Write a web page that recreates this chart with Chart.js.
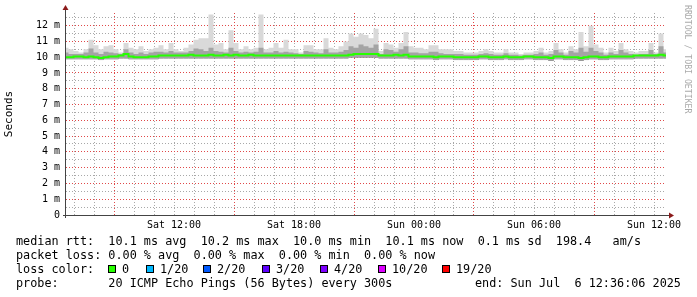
<!DOCTYPE html>
<html>
<head>
<meta charset="utf-8">
<script src="https://cdn.jsdelivr.net/npm/chart.js@4"></script>
<style>
  body { margin: 0; background: #fff; }
  #wrap { position: relative; width: 697px; height: 297px; overflow: hidden; }
  #chart { position: absolute; left: 0; top: 0; }
  .txt { position: absolute; font: 11.8px "DejaVu Sans Mono", monospace; white-space: pre; line-height: 14px; color: #000; }
  .sq { position: absolute; width: 6px; height: 6px; border: 1px solid #000; top: 265px; }
  #credit { position: absolute; left: 683px; top: 5px; writing-mode: vertical-rl; font: 8.2px "DejaVu Sans Mono", monospace; line-height: 10px; color: #aaa; white-space: pre; }
</style>
</head>
<body>
<div id="wrap">
  <canvas id="chart" width="697" height="297"></canvas>
  <div id="credit">RRDTOOL / TOBI OETIKER</div>
  <div class="txt" style="left:16px;top:234px">median rtt:  10.1 ms avg  10.2 ms max  10.0 ms min  10.1 ms now  0.1 ms sd  198.4   am/s</div>
  <div class="txt" style="left:16px;top:248px">packet loss: 0.00 % avg  0.00 % max  0.00 % min  0.00 % now</div>
  <div class="txt" style="left:16px;top:262px">loss color:</div>
  <div id="losslegend"></div>
  <div class="txt" style="left:16px;top:276px">probe:       20 ICMP Echo Pings (56 Bytes) every 300s</div>
  <div class="txt" style="left:475px;top:276px">end: Sun Jul  6 12:36:06 2025</div>
</div>
<script>
// time axis: hours since Sat 00:00, one sample every 15 min
const startHour = 6.6;
const stepHours = 0.25;

// median rtt (ms)
const median = [
  10.0, 10.0, 10.05, 10.05, 10.0, 10.05, 10.0, 9.95, 10.0, 10.05, 10.05,
  10.1, 10.2, 10.05, 10.0, 10.0, 10.0, 10.05, 10.05, 10.1, 10.1,
  10.1, 10.1, 10.1, 10.1, 10.15, 10.1, 10.1, 10.1, 10.15, 10.1,
  10.1, 10.15, 10.1, 10.15, 10.1, 10.1, 10.15, 10.1, 10.1, 10.1,
  10.1, 10.1, 10.1, 10.1, 10.1, 10.1, 10.1, 10.1, 10.1, 10.1,
  10.1, 10.1, 10.1, 10.1, 10.1, 10.1, 10.15, 10.2, 10.2, 10.2,
  10.2, 10.2, 10.1, 10.1, 10.1, 10.15, 10.1, 10.15, 10.05, 10.05,
  10.05, 10.05, 10.05, 10.0, 10.05, 10.05, 10.05, 10.0, 10.0, 10.0,
  10.0, 10.0, 10.05, 10.05, 10.0, 10.0, 10.0, 10.05, 10.0, 10.0,
  10.0, 10.05, 10.05, 10.0, 10.0, 10.0, 9.95, 10.05, 10.05, 10.0,
  10.0, 10.0, 9.95, 10.0, 10.05, 10.05, 10.0, 10.0, 10.05, 10.05,
  10.05, 10.05, 10.05, 10.1, 10.1, 10.1, 10.1, 10.1, 10.15, 10.1
];

// dense smoke top (ms)
const smokeHi = [
  10.3, 10.2, 10.2, 10.2, 10.3, 10.55, 10.3, 10.2, 10.35, 10.3, 10.25,
  10.2, 10.5, 10.3, 10.2, 10.3, 10.2, 10.3, 10.35, 10.35, 10.3,
  10.4, 10.3, 10.3, 10.3, 10.4, 10.55, 10.5, 10.4, 10.6, 10.4,
  10.35, 10.3, 10.6, 10.4, 10.3, 10.35, 10.3, 10.35, 10.6, 10.3,
  10.3, 10.4, 10.3, 10.35, 10.3, 10.25, 10.2, 10.4, 10.35, 10.3,
  10.25, 10.5, 10.3, 10.3, 10.35, 10.45, 10.7, 10.6, 10.8, 10.7,
  10.6, 10.8, 10.2, 10.5, 10.45, 10.35, 10.5, 10.7, 10.3, 10.3,
  10.25, 10.25, 10.35, 10.35, 10.25, 10.2, 10.2, 10.2, 10.2, 10.15,
  10.15, 10.15, 10.2, 10.25, 10.2, 10.15, 10.15, 10.25, 10.15, 10.15,
  10.1, 10.15, 10.15, 10.2, 10.3, 10.15, 10.2, 10.45, 10.3, 10.15,
  10.4, 10.3, 10.6, 10.35, 10.6, 10.4, 10.3, 10.15, 10.3, 10.2,
  10.45, 10.3, 10.2, 10.15, 10.2, 10.2, 10.45, 10.2, 10.7, 10.3
];

// outer smoke top, slowest ping (ms)
const smokeMax = [
  10.6, 10.5, 10.4, 10.3, 10.5, 11.1, 10.75, 10.5, 10.7, 10.75, 10.5,
  10.3, 10.9, 10.6, 10.5, 10.7, 10.4, 10.5, 10.6, 10.75, 10.5,
  10.9, 10.5, 10.4, 10.6, 10.8, 11.1, 11.2, 11.2, 12.7, 10.8,
  10.9, 10.5, 11.7, 10.9, 10.5, 10.7, 10.5, 10.6, 12.7, 10.5,
  10.6, 10.9, 10.6, 11.1, 10.5, 10.5, 10.3, 10.75, 10.75, 10.5,
  10.5, 11.2, 10.6, 10.5, 10.7, 11.0, 11.5, 11.3, 11.5, 11.4,
  11.2, 11.8, 10.4, 10.9, 10.8, 10.6, 10.9, 11.6, 10.7, 10.6,
  10.6, 10.5, 10.75, 10.75, 10.5, 10.5, 10.5, 10.4, 10.4, 10.3,
  10.3, 10.3, 10.4, 10.5, 10.4, 10.3, 10.3, 10.5, 10.3, 10.3,
  10.2, 10.3, 10.3, 10.4, 10.6, 10.3, 10.4, 10.9, 10.5, 10.3,
  10.7, 10.5, 11.6, 10.7, 12.0, 10.8, 10.6, 10.3, 10.6, 10.4,
  10.9, 10.5, 10.4, 10.3, 10.4, 10.4, 10.9, 10.3, 11.5, 10.5
];

// smoke bottom, fastest ping (ms)
const smokeMin = [
  9.9, 9.9, 9.9, 9.9, 9.9, 9.9, 9.9, 9.85, 9.9, 9.9, 9.9,
  9.95, 9.95, 9.9, 9.9, 9.9, 9.9, 9.9, 9.9, 9.95, 9.95,
  9.95, 9.95, 9.95, 9.95, 9.95, 9.95, 9.95, 9.95, 9.95, 9.95,
  9.95, 9.95, 9.95, 9.95, 9.95, 9.95, 9.95, 9.95, 9.95, 9.95,
  9.95, 9.95, 9.95, 9.95, 9.95, 9.95, 9.95, 9.95, 9.95, 9.95,
  9.95, 9.95, 9.95, 9.95, 9.95, 9.95, 10.0, 10.0, 10.0, 10.0,
  10.0, 10.0, 9.95, 9.95, 9.95, 9.95, 9.95, 9.95, 9.9, 9.9,
  9.9, 9.9, 9.9, 9.85, 9.9, 9.9, 9.9, 9.85, 9.85, 9.85,
  9.85, 9.85, 9.9, 9.9, 9.85, 9.85, 9.85, 9.9, 9.85, 9.85,
  9.85, 9.9, 9.9, 9.85, 9.85, 9.85, 9.8, 9.9, 9.9, 9.85,
  9.85, 9.85, 9.8, 9.85, 9.9, 9.9, 9.85, 9.85, 9.9, 9.9,
  9.9, 9.9, 9.9, 9.95, 9.95, 9.95, 9.95, 9.95, 9.95, 9.95
];

const xLabelHours = [12, 18, 24, 30, 36];
const xLabels = ['Sat 12:00', 'Sat 18:00', 'Sun 00:00', 'Sun 06:00', 'Sun 12:00'];
const xMajorHours = [9, 15, 21, 27, 33];

const lossLabels = ['0', '1/20', '2/20', '3/20', '4/20', '10/20', '19/20'];
const lossColors = ['#26ff00', '#00b8ff', '#0059ff', '#5e00ff', '#7e00ff', '#dd00ff', '#ff0000'];
const lossBoxX = [108, 146, 203, 262, 320, 378, 442];

const majorGrid = '#e04848';
const minorGrid = '#a8a8a8';

const hourTicks = [];
for (let h = 7; h <= 36; h++) hourTicks.push(h);
const halfTicks = [];
for (let k = 0; k <= 25; k++) halfTicks.push(k / 2);

const toPoints = arr => arr.map((v, i) => ({ x: startHour + i * stepHours, y: v }));

document.getElementById('losslegend').innerHTML = lossLabels.map((l, i) =>
  `<div class="sq" style="left:${lossBoxX[i]}px;background:${lossColors[i]}"></div>` +
  `<div class="txt" style="left:${lossBoxX[i] + 14}px;top:262px">${l}</div>`
).join('');

const axisArrows = {
  id: 'axisArrows',
  afterDraw(chart) {
    const { ctx, chartArea: a } = chart;
    ctx.save();
    ctx.strokeStyle = '#444';
    ctx.lineWidth = 1;
    ctx.beginPath();
    ctx.moveTo(a.left - 0.5, a.bottom + 3);
    ctx.lineTo(a.left - 0.5, a.top - 4);
    ctx.moveTo(a.left - 3, a.bottom + 0.5);
    ctx.lineTo(a.right + 3, a.bottom + 0.5);
    ctx.stroke();
    ctx.fillStyle = '#8b1a1a';
    ctx.beginPath();
    ctx.moveTo(a.left - 0.5, a.top - 8);
    ctx.lineTo(a.left - 3.5, a.top - 3);
    ctx.lineTo(a.left + 2.5, a.top - 3);
    ctx.closePath();
    ctx.fill();
    ctx.beginPath();
    ctx.moveTo(a.right + 8, a.bottom + 0.5);
    ctx.lineTo(a.right + 3, a.bottom - 2.5);
    ctx.lineTo(a.right + 3, a.bottom + 3.5);
    ctx.closePath();
    ctx.fill();
    ctx.restore();
  }
};

const tickFont = { family: 'DejaVu Sans Mono', size: 10 };

new Chart(document.getElementById('chart').getContext('2d'), {
  type: 'line',
  data: {
    datasets: [
      { label: 'median', data: toPoints(median), borderColor: '#26ff00', borderWidth: 2,
        pointRadius: 0, stepped: 'middle', fill: false, order: 0 },
      { label: 'smokeHi', data: toPoints(smokeHi), borderColor: 'rgba(0,0,0,0)', borderWidth: 0,
        backgroundColor: '#a4a4a4', pointRadius: 0, stepped: 'middle', fill: 3, order: 1 },
      { label: 'smokeMax', data: toPoints(smokeMax), borderColor: 'rgba(0,0,0,0)', borderWidth: 0,
        backgroundColor: '#d9d9d9', pointRadius: 0, stepped: 'middle', fill: 3, order: 2 },
      { label: 'smokeMin', data: toPoints(smokeMin), borderColor: '#6a6a6a', borderWidth: 1,
        pointRadius: 0, stepped: 'middle', fill: false, order: 3 }
    ]
  },
  options: {
    responsive: false,
    animation: false,
    layout: { padding: { left: 0, right: 31, top: 13, bottom: 0 } },
    plugins: { legend: { display: false }, tooltip: { enabled: false } },
    scales: {
      x: {
        type: 'linear',
        min: startHour,
        max: startHour + 30,
        afterBuildTicks: s => { s.ticks = hourTicks.map(v => ({ value: v })); },
        afterFit: s => { s.height = 82; },
        grid: {
          color: c => xMajorHours.includes(c.tick && c.tick.value) ? majorGrid : minorGrid,
          drawTicks: false
        },
        border: { display: false, dash: [1, 2] },
        ticks: {
          autoSkip: false, maxRotation: 0, padding: 4, font: tickFont, color: '#000',
          callback: v => { const k = xLabelHours.indexOf(v); return k < 0 ? '' : xLabels[k]; }
        }
      },
      y: {
        min: 0,
        max: 12.8,
        afterBuildTicks: s => { s.ticks = halfTicks.map(v => ({ value: v })); },
        afterFit: s => { s.width = 66; },
        grid: {
          color: c => (c.index % 2 === 0) ? majorGrid : minorGrid,
          drawTicks: false
        },
        border: { display: false, dash: [1, 2] },
        title: {
          display: true, text: 'Seconds', color: '#000',
          font: { family: 'DejaVu Sans Mono', size: 11 },
          padding: { top: 3, bottom: 0 }
        },
        ticks: {
          autoSkip: false, padding: 6, font: tickFont, color: '#000',
          callback: v => Number.isInteger(v) ? (v === 0 ? '0' : v + ' m') : ''
        }
      }
    }
  },
  plugins: [axisArrows]
});
</script>
</body>
</html>
